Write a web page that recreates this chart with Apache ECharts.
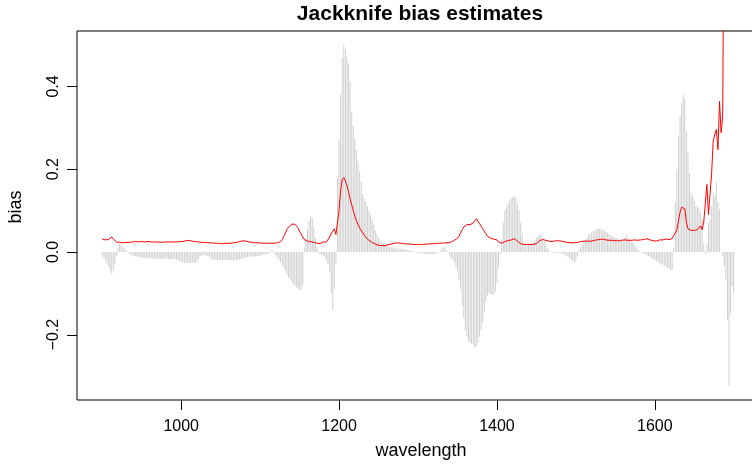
<!DOCTYPE html>
<html>
<head>
<meta charset="utf-8">
<script src="https://cdn.jsdelivr.net/npm/echarts@6/dist/echarts.min.js"></script>
<style>
  html, body { margin: 0; padding: 0; background: #fff; }
  #main { width: 752px; height: 465px; }
</style>
</head>
<body>
<div id="main"></div>
<script>
// wavelength grid: 900..1700 nm, every 2 nm
const wlStart = 900
const wlStep = 2

// jackknife bias (grey spikes), one row = 20 nm
const biasVals = [
  -0.008, -0.015, -0.02, -0.028, -0.035, -0.045, -0.053, -0.045, -0.03, -0.01,
  0.01, 0.018, 0.017, 0.012, 0.008, 0.004, 0.001, -0.003, -0.006, -0.008,
  -0.01, -0.011, -0.012, -0.013, -0.013, -0.014, -0.014, -0.014, -0.015, -0.015,
  -0.015, -0.015, -0.016, -0.016, -0.016, -0.016, -0.017, -0.017, -0.016, -0.016,
  -0.016, -0.016, -0.017, -0.017, -0.018, -0.018, -0.018, -0.019, -0.02, -0.022,
  -0.024, -0.025, -0.026, -0.026, -0.027, -0.027, -0.027, -0.027, -0.026, -0.026,
  -0.024, -0.016, -0.01, -0.009, -0.008, -0.008, -0.009, -0.01, -0.013, -0.017,
  -0.018, -0.019, -0.019, -0.02, -0.02, -0.02, -0.02, -0.02, -0.019, -0.019,
  -0.019, -0.02, -0.02, -0.02, -0.02, -0.019, -0.019, -0.018, -0.017, -0.016,
  -0.014, -0.013, -0.012, -0.012, -0.012, -0.011, -0.011, -0.011, -0.01, -0.01,
  -0.009, -0.008, -0.007, -0.006, -0.005, -0.004, -0.002, 0.004, 0.003, -0.003,
  -0.008, -0.015, -0.02, -0.025, -0.032, -0.038, -0.046, -0.055, -0.062, -0.068,
  -0.073, -0.078, -0.082, -0.086, -0.089, -0.092, -0.09, -0.08, 0.01, 0.035,
  0.055, 0.075, 0.086, 0.082, 0.06, 0.035, 0.012, -0.003, -0.006, -0.008,
  -0.01, -0.013, -0.02, -0.03, -0.05, -0.1, -0.14, -0.09, -0.03, 0.18,
  0.27, 0.38, 0.47, 0.5, 0.49, 0.47, 0.455, 0.41, 0.34, 0.305,
  0.275, 0.245, 0.22, 0.195, 0.17, 0.14, 0.128, 0.12, 0.11, 0.1,
  0.09, 0.077, 0.066, 0.052, 0.042, 0.034, 0.029, 0.025, 0.022, 0.018,
  0.015, 0.013, 0.012, 0.011, 0.01, 0.009, 0.009, 0.008, 0.008, 0.007,
  0.007, 0.006, 0.006, 0.005, 0.004, 0.003, 0.002, 0.001, 0, -0.001,
  -0.002, -0.003, -0.003, -0.004, -0.004, -0.005, -0.005, -0.006, -0.006, -0.006,
  -0.005, -0.004, -0.003, -0.001, 0.003, 0.008, 0.012, 0.01, 0.004, -0.002,
  -0.01, -0.014, -0.018, -0.025, -0.035, -0.048, -0.07, -0.09, -0.13, -0.16,
  -0.19, -0.205, -0.215, -0.22, -0.222, -0.224, -0.23, -0.228, -0.218, -0.205,
  -0.19, -0.17, -0.145, -0.12, -0.105, -0.1, -0.102, -0.104, -0.102, -0.095,
  -0.075, -0.04, -0.005, 0.03, 0.07, 0.1, 0.108, 0.118, 0.125, 0.13,
  0.133, 0.135, 0.13, 0.115, 0.1, 0.07, 0.045, 0.022, 0.015, 0.014,
  0.016, 0.018, 0.02, 0.022, 0.028, 0.034, 0.038, 0.042, 0.04, 0.032,
  0.025, 0.017, 0.01, 0.004, 0, -0.002, -0.002, -0.002, -0.002, -0.002,
  -0.002, -0.003, -0.004, -0.007, -0.009, -0.012, -0.015, -0.019, -0.022, -0.027,
  -0.022, -0.01, 0.004, 0.012, 0.018, 0.024, 0.03, 0.034, 0.04, 0.044,
  0.047, 0.05, 0.052, 0.054, 0.055, 0.056, 0.056, 0.054, 0.052, 0.049,
  0.046, 0.043, 0.04, 0.037, 0.036, 0.034, 0.034, 0.032, 0.03, 0.03,
  0.031, 0.035, 0.04, 0.035, 0.03, 0.026, 0.022, 0.017, 0.012, 0.007,
  0.003, 0, -0.003, -0.004, -0.006, -0.009, -0.01, -0.012, -0.014, -0.017,
  -0.019, -0.022, -0.025, -0.027, -0.029, -0.031, -0.033, -0.035, -0.038, -0.041,
  -0.043, -0.044, 0.01, 0.12, 0.2, 0.28, 0.33, 0.36, 0.38, 0.37,
  0.29, 0.24, 0.19, 0.143, 0.135, 0.123, 0.11, 0.11, 0.105, 0.094,
  0.08, 0.02, -0.006, 0.02, 0.07, 0.08, 0.11, 0.143, 0.135, 0.167,
  0.12, 0.104, 0, -0.01, -0.035, -0.067, -0.164, -0.325, -0.148, -0.083,
  -0.1
]

// red curve, same grid
const lineVals = [
  0.031, 0.03, 0.029, 0.029, 0.03, 0.03, 0.036, 0.031, 0.027, 0.024,
  0.023, 0.023, 0.022, 0.022, 0.022, 0.023, 0.023, 0.023, 0.024, 0.024,
  0.024, 0.025, 0.025, 0.024, 0.025, 0.025, 0.024, 0.024, 0.025, 0.025,
  0.024, 0.024, 0.025, 0.024, 0.023, 0.024, 0.024, 0.023, 0.024, 0.024,
  0.024, 0.024, 0.025, 0.024, 0.024, 0.024, 0.025, 0.024, 0.024, 0.025,
  0.025, 0.025, 0.026, 0.027, 0.028, 0.028, 0.027, 0.026, 0.026, 0.025,
  0.025, 0.024, 0.024, 0.023, 0.023, 0.023, 0.022, 0.022, 0.022, 0.022,
  0.021, 0.021, 0.021, 0.021, 0.02, 0.02, 0.02, 0.02, 0.021, 0.021,
  0.021, 0.021, 0.022, 0.022, 0.023, 0.023, 0.024, 0.025, 0.026, 0.027,
  0.027, 0.026, 0.025, 0.024, 0.023, 0.023, 0.022, 0.022, 0.022, 0.022,
  0.022, 0.021, 0.021, 0.021, 0.021, 0.021, 0.021, 0.021, 0.021, 0.021,
  0.021, 0.022, 0.022, 0.025, 0.03, 0.038, 0.046, 0.054, 0.06, 0.064,
  0.067, 0.068, 0.067, 0.064, 0.058, 0.05, 0.043, 0.036, 0.03, 0.027,
  0.026, 0.025, 0.025, 0.024, 0.023, 0.022, 0.021, 0.02, 0.02, 0.022,
  0.024, 0.024, 0.024, 0.028, 0.036, 0.044, 0.05, 0.056, 0.042, 0.045,
  0.1, 0.15, 0.175, 0.18, 0.172, 0.16, 0.145, 0.128, 0.114, 0.1,
  0.086, 0.076, 0.066, 0.058, 0.052, 0.046, 0.04, 0.035, 0.031, 0.028,
  0.025, 0.023, 0.021, 0.019, 0.017, 0.016, 0.016, 0.015, 0.015, 0.015,
  0.016, 0.017, 0.018, 0.019, 0.02, 0.021, 0.022, 0.022, 0.022, 0.021,
  0.021, 0.02, 0.02, 0.019, 0.019, 0.019, 0.018, 0.018, 0.018, 0.018,
  0.018, 0.018, 0.018, 0.018, 0.019, 0.019, 0.019, 0.019, 0.02, 0.02,
  0.02, 0.02, 0.02, 0.021, 0.021, 0.021, 0.021, 0.022, 0.022, 0.022,
  0.023, 0.024, 0.026, 0.028, 0.03, 0.033, 0.038, 0.046, 0.054, 0.06,
  0.064, 0.066, 0.066, 0.066, 0.068, 0.07, 0.074, 0.08, 0.076, 0.068,
  0.062, 0.056, 0.05, 0.044, 0.038, 0.035, 0.033, 0.032, 0.031, 0.03,
  0.029, 0.024, 0.02, 0.021, 0.024, 0.025, 0.026, 0.027, 0.028, 0.029,
  0.031, 0.032, 0.03, 0.026, 0.022, 0.02, 0.019, 0.018, 0.018, 0.018,
  0.018, 0.018, 0.018, 0.018, 0.019, 0.02, 0.022, 0.027, 0.029, 0.03,
  0.028, 0.028, 0.027, 0.026, 0.026, 0.025, 0.026, 0.027, 0.027, 0.027,
  0.027, 0.026, 0.025, 0.024, 0.024, 0.023, 0.023, 0.022, 0.022, 0.022,
  0.022, 0.023, 0.024, 0.025, 0.025, 0.026, 0.026, 0.026, 0.026, 0.026,
  0.027, 0.027, 0.028, 0.029, 0.03, 0.03, 0.031, 0.031, 0.03, 0.029,
  0.028, 0.028, 0.028, 0.028, 0.028, 0.027, 0.027, 0.027, 0.027, 0.028,
  0.028, 0.029, 0.028, 0.028, 0.028, 0.028, 0.028, 0.029, 0.028, 0.028,
  0.028, 0.029, 0.029, 0.03, 0.031, 0.032, 0.031, 0.029, 0.028, 0.027,
  0.027, 0.026, 0.027, 0.029, 0.03, 0.029, 0.03, 0.031, 0.031, 0.03,
  0.03, 0.032, 0.04, 0.046, 0.054, 0.075, 0.096, 0.108, 0.112, 0.104,
  0.072, 0.056, 0.053, 0.052, 0.052, 0.052, 0.053, 0.054, 0.055, 0.063,
  0.054, 0.072, 0.075, 0.163, 0.09, 0.093, 0.19, 0.27, 0.27, 0.296,
  0.247, 0.364, 0.288, 0.328, 0.95, 1.1, 1.25, 1.2, 1.4, 1.5,
  1.6
]

const xTicks = [1000, 1200, 1400, 1600]
const yTicks = [-0.2, 0, 0.2, 0.4]

const xMin = 868, xMax = 1732
const yMin = -0.358, yMax = 0.534
const tickLen = 10

const fontFam = '"Liberation Sans", Arial, Helvetica, sans-serif'

let barData = biasVals.map((v, i) => [wlStart + i * wlStep, v])
let lineData = lineVals.map((v, i) => [wlStart + i * wlStep, v])

let chart = echarts.init(document.getElementById('main'), null, { renderer: 'canvas' })

let option = {
  animation: false,
  backgroundColor: '#fff',
  grid: {
    // plot box runs past the right edge of the picture
    left: 77,
    top: 31,
    width: 682,
    height: 369,
    outerBoundsMode: 'none',
    containLabel: false,
    show: true,
    borderColor: '#000',
    borderWidth: 1,
    backgroundColor: 'transparent'
  },
  xAxis: {
    type: 'value',
    min: xMin,
    max: xMax,
    axisLine: { show: false, onZero: false },
    splitLine: { show: false },
    axisTick: { show: false },
    axisLabel: {
      customValues: xTicks,
      margin: 19,
      color: '#000',
      fontSize: 16,
      fontFamily: fontFam,
      formatter: function (v) { return String(v) }
    }
  },
  yAxis: {
    type: 'value',
    min: yMin,
    max: yMax,
    axisLine: { show: false, onZero: false },
    splitLine: { show: false },
    axisTick: { show: false },
    axisLabel: {
      customValues: yTicks,
      rotate: 90,
      margin: 15,
      color: '#000',
      fontSize: 16,
      fontFamily: fontFam,
      formatter: function (v) {
        let s = Math.abs(v).toFixed(1)
        return v < 0 ? '\u2212' + s : s
      }
    }
  },
  series: [
    {
      name: 'bias',
      type: 'bar',
      data: barData,
      barWidth: 1,
      silent: true,
      itemStyle: { color: '#d0d0d0' }
    },
    {
      name: 'curve',
      type: 'line',
      data: lineData,
      showSymbol: false,
      silent: true,
      clip: true,
      z: 5,
      lineStyle: { color: '#ff0000', width: 1 }
    }
  ]
}
chart.setOption(option)

// titles, plus tick marks outside the box placed through the axes
let extras = [
  {
    type: 'text', x: 420, y: 14,
    style: { text: 'Jackknife bias estimates', fill: '#000', font: 'bold 21px ' + fontFam, textAlign: 'center', textVerticalAlign: 'middle' }
  },
  {
    type: 'text', x: 421, y: 451,
    style: { text: 'wavelength', fill: '#000', font: '18px ' + fontFam, textAlign: 'center', textVerticalAlign: 'middle' }
  },
  {
    type: 'text', x: 16, y: 207, rotation: Math.PI / 2,
    style: { text: 'bias', fill: '#000', font: '18px ' + fontFam, textAlign: 'center', textVerticalAlign: 'middle' }
  }
]
xTicks.forEach(function (v) {
  let p = chart.convertToPixel({ gridIndex: 0 }, [v, yMin])
  extras.push({
    type: 'rect',
    shape: { x: Math.round(p[0]), y: Math.round(p[1]), width: 1, height: tickLen },
    style: { fill: '#000' }
  })
})
yTicks.forEach(function (v) {
  let p = chart.convertToPixel({ gridIndex: 0 }, [xMin, v])
  extras.push({
    type: 'rect',
    shape: { x: Math.round(p[0]) - tickLen, y: Math.round(p[1]), width: tickLen, height: 1 },
    style: { fill: '#000' }
  })
})
chart.setOption({ graphic: extras })
</script>
</body>
</html>
